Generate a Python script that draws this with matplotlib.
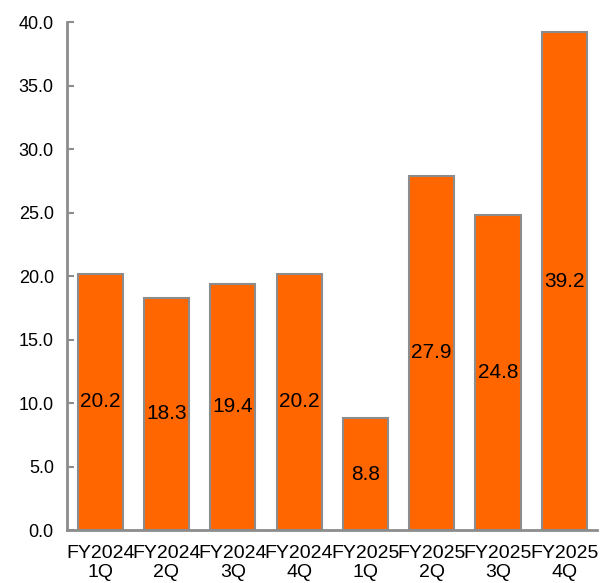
import matplotlib
matplotlib.use("Agg")
import matplotlib.pyplot as plt
import numpy as np

plt.rcParams['font.family'] = ['Liberation Sans', 'DejaVu Sans']

# quarterly values
quarters = ["FY2024\n1Q", "FY2024\n2Q", "FY2024\n3Q", "FY2024\n4Q",
            "FY2025\n1Q", "FY2025\n2Q", "FY2025\n3Q", "FY2025\n4Q"]
values = [20.2, 18.3, 19.4, 20.2, 8.8, 27.9, 24.8, 39.2]

AXIS_GRAY = "#8c8c8c"
BAR_ORANGE = "#ff6600"

fig = plt.figure(figsize=(6.0, 5.83), dpi=100)
ax = fig.add_axes([0.1117, 0.0909, 0.884, 0.871])

x = np.arange(len(values))
bars = ax.bar(x, values, width=0.68, color=BAR_ORANGE,
              edgecolor=AXIS_GRAY, linewidth=1.5)

# value labels sit in the middle of each bar
for xi, v in zip(x, values):
    ax.text(xi, v / 2, f"{v:.1f}", ha="center", va="center",
            fontsize=15, color="black")

ax.set_xlim(-0.5, len(values) - 0.5)
ax.set_ylim(0, 40)
ax.set_yticks(np.arange(0, 40.1, 5))
ax.set_yticklabels([f"{t:.1f}" for t in np.arange(0, 40.1, 5)])
ax.set_xticks(x)
ax.set_xticklabels(quarters, linespacing=1.15)

ax.tick_params(axis="y", direction="in", length=5, width=1.5,
               color=AXIS_GRAY, labelsize=13, pad=9.5)
ax.tick_params(axis="x", length=0, labelsize=14, pad=11)

for side in ["top", "right"]:
    ax.spines[side].set_visible(False)
for side in ["left", "bottom"]:
    ax.spines[side].set_color(AXIS_GRAY)
    ax.spines[side].set_linewidth(2)

fig.savefig("out.png", dpi=100)
